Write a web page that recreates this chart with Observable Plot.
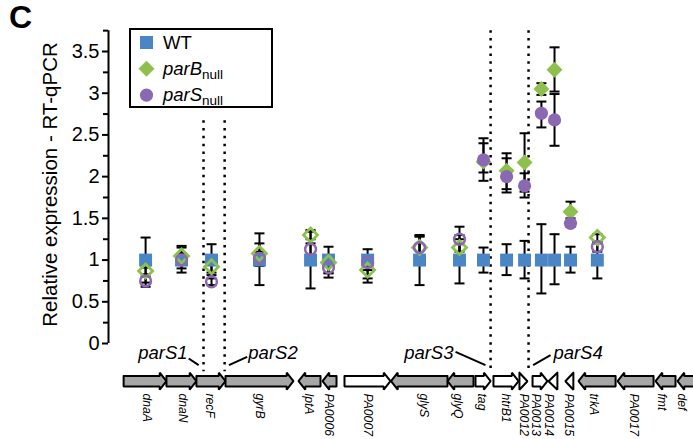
<!DOCTYPE html>
<html><head><meta charset="utf-8">
<script src="https://cdn.jsdelivr.net/npm/d3@7"></script>
<script src="https://cdn.jsdelivr.net/npm/@observablehq/plot@0.6"></script>
<style>
body{margin:0;background:#fff;font-family:"Liberation Sans",Arial,sans-serif;}
#wrap{position:relative;width:693px;height:439px;overflow:hidden;background:#fff;}
#panel{position:absolute;left:9px;top:1px;font-weight:bold;font-size:32px;line-height:32px;font-family:"Liberation Sans",Arial,sans-serif;}
#legend{position:absolute;left:129px;top:28px;}
</style></head><body>
<div id="wrap"><div id="chart"></div><div id="panel">C</div><svg id="legend" width="146" height="82"></svg></div>
<script>
// ---- measured genes (x = genomic position, kb) ----
const genes = ["dnaA","dnaN","recF","gyrB","lptA","PA0006","PA0007","glyS","glyQ","tag","htrB1","PA0012","PA0013","PA0014","PA0015","trkA"];
const genePos = [0.80,2.06,3.11,4.79,6.58,7.21,8.58,10.40,11.80,12.64,13.45,14.08,14.67,15.13,15.69,16.63];
const wtMean = [1,1,1,1,1,1,1,1,1,1,1,1,1,1,1,1];
const wtLo = [0.73,0.85,0.82,0.70,0.66,0.84,0.78,0.70,0.72,0.85,0.82,0.78,0.60,0.71,0.85,0.78];
const wtHi = [1.27,1.15,1.19,1.32,1.34,1.16,1.13,1.30,1.30,1.15,1.19,1.23,1.43,1.31,1.16,1.22];
const parBMean = [0.87,1.05,0.92,1.08,1.30,0.97,0.88,1.15,1.15,2.18,2.07,2.17,3.05,3.28,1.58,1.27];
const parBLo = [0.83,0.95,0.85,0.95,1.25,0.85,0.73,1.05,1.05,1.95,1.85,1.82,2.98,3.02,1.45,1.20];
const parBHi = [0.91,1.17,1.00,1.20,1.36,1.05,1.00,1.29,1.25,2.40,2.28,2.52,3.12,3.55,1.70,1.31];
const parSMean = [0.75,1.00,0.74,1.02,1.13,0.91,0.97,1.15,1.25,2.20,2.00,1.89,2.76,2.68,1.44,1.16];
const parSLo = [0.68,0.90,0.70,0.93,1.05,0.79,0.88,1.05,1.10,2.05,1.81,1.75,2.59,2.37,1.40,1.10];
const parSHi = [0.80,1.08,0.78,1.10,1.20,1.00,1.06,1.28,1.40,2.46,2.22,2.04,2.90,2.99,1.50,1.22];
const significant = [0,0,0,0,0,0,0,0,0,1,1,1,1,1,1,0];

// ---- gene map ----
const trackNames = ["dnaA","dnaN","recF","gyrB","lptA","PA0006","PA0007","glyS","glyQ","tag","htrB1","PA0012","PA0013","PA0014","PA0015","trkA","PA0017","fmt","def"];
const trackStart = [0.03,1.53,2.58,3.60,6.16,7.00,7.77,9.40,11.38,12.36,12.99,13.90,14.36,14.92,15.51,15.97,17.34,18.67,19.44];
const trackEnd = [1.53,2.58,3.60,5.98,6.93,7.49,9.38,11.38,12.29,12.89,13.87,14.18,14.88,15.23,15.79,17.27,18.60,19.37,20.40];
const trackStrand = [1,1,1,1,-1,-1,1,-1,-1,1,1,1,1,-1,-1,-1,-1,-1,-1];
const trackShaded = [1,1,1,1,1,1,0,1,1,0,0,0,0,0,0,1,1,1,1];
const trackLabelPos = [0.83,2.09,3.07,4.79,6.54,7.24,8.58,10.54,11.76,12.57,13.41,14.04,14.49,14.94,15.65,16.50,17.90,18.91,19.61];

// ---- parS sites ----
const parSNames = ["parS1","parS2","parS3","parS4"];
const parSPos = [2.83,3.57,12.89,14.22];
const parSLineTop = [2.67,2.67,3.75,3.75];
const parSLabelPos = [2.27,4.40,11.59,15.09];
const parSLabelSide = ["end","start","end","start"];
const parSLeaderX1 = [2.31,3.72,11.66,14.38];
const parSLeaderY1 = [-0.18,-0.26,-0.10,-0.26];
const parSLeaderX2 = [2.66,4.36,12.71,14.99];
const parSLeaderY2 = [-0.26,-0.16,-0.26,-0.14];

const yTicks = [0,0.5,1,1.5,2,2.5,3,3.5];
const yMinor = [0.25,0.75,1.25,1.75,2.25,2.75,3.25,3.75];
const series = ["WT","parB","parS"];
const seriesColor = ["#4a86c6","#8ec04e","#8b68b2"];

// ---- build tables ----
const rows = genes.map((g,i)=>({gene:g,x:genePos[i],sig:significant[i],
  wt:wtMean[i],wtLo:wtLo[i],wtHi:wtHi[i],pb:parBMean[i],pbLo:parBLo[i],pbHi:parBHi[i],ps:parSMean[i],psLo:parSLo[i],psHi:parSHi[i]}));
const errs = [];
rows.forEach(r=>{
  errs.push({x:r.x,lo:r.wtLo,hi:r.wtHi});
  errs.push({x:r.x,lo:r.pbLo,hi:r.pbHi});
  errs.push({x:r.x,lo:r.psLo,hi:r.psHi});
});
const caps = errs.flatMap(e=>[{x:e.x,y:e.lo},{x:e.x,y:e.hi}]);

const TRACK_Y = -0.452, BODY = 0.062, HEAD = 0.102, HEADLEN = 0.235;
const tracks = trackNames.map((n,i)=>({name:n,s:trackStart[i],e:trackEnd[i],strand:trackStrand[i],shaded:trackShaded[i],lab:trackLabelPos[i]}));
function arrowPts(t){
  const c=TRACK_Y, len=t.e-t.s, h = len<0.35 ? len : HEADLEN;
  let pts;
  if(t.strand>0){
    const n=t.e-h;
    pts = h>=len ? [[t.s,c+HEAD],[t.e,c],[t.s,c-HEAD],[t.s,c+HEAD]]
      : [[t.s,c+BODY],[n,c+BODY],[n,c+HEAD],[t.e,c],[n,c-HEAD],[n,c-BODY],[t.s,c-BODY],[t.s,c+BODY]];
  } else {
    const n=t.s+h;
    pts = h>=len ? [[t.e,c+HEAD],[t.s,c],[t.e,c-HEAD],[t.e,c+HEAD]]
      : [[t.e,c+BODY],[n,c+BODY],[n,c+HEAD],[t.s,c],[n,c-HEAD],[n,c-BODY],[t.e,c-BODY],[t.e,c+BODY]];
  }
  return pts.map(p=>({name:t.name,shaded:t.shaded,x:p[0],y:p[1]}));
}
const polys = tracks.flatMap(arrowPts);
const sites = parSNames.map((n,i)=>({name:n,x:parSPos[i],top:parSLineTop[i],lx:parSLabelPos[i],side:parSLabelSide[i],
  x1:parSLeaderX1[i],y1:parSLeaderY1[i],x2:parSLeaderX2[i],y2:parSLeaderY2[i]}));

const capSymbol = {draw(ctx){ctx.moveTo(-5,0);ctx.lineTo(5,0);}};
const FONT = "'Liberation Sans', Arial, sans-serif";

const chart = Plot.plot({
  width:693, height:439, marginLeft:108, marginRight:0, marginTop:0, marginBottom:0,
  x:{domain:[-0.5,20], axis:null},
  y:{domain:[-1.1507,4.1113], axis:null},
  style:{fontFamily:FONT, background:"white", color:"black"},
  marks:[
    Plot.ruleX(sites,{x:"x", y1:"top", y2:()=>-0.34, stroke:"black", strokeWidth:2.5, strokeDasharray:"2.5,5.3"}),
    Plot.ruleX([-0.5],{y1:0, y2:3.75, stroke:"black", strokeWidth:2}),
    Plot.axisY({anchor:"left", ticks:yTicks, tickSize:6, tickPadding:3, fontSize:20, strokeWidth:2, tickFormat:d=>String(d)}),
    Plot.axisY({anchor:"left", ticks:yMinor, tickSize:5, strokeWidth:2, tickFormat:()=>""}),
    Plot.text(["Relative expression - RT-qPCR"],{x:()=>-0.5, y:()=>1.906, rotate:-90, dx:-52, lineAnchor:"bottom", textAnchor:"middle", fontSize:20.5}),
    Plot.ruleX(errs,{x:"x", y1:"lo", y2:"hi", stroke:"black", strokeWidth:2}),
    Plot.dot(caps,{x:"x", y:"y", symbol:capSymbol, r:5, stroke:"black", strokeWidth:2, fill:"none"}),
    Plot.dot(rows,{x:"x", y:"wt", symbol:"square", r:7.3, fill:seriesColor[0], stroke:"none"}),
    Plot.dot(rows.filter(r=>r.sig),{x:"x", y:"pb", symbol:"diamond2", r:7.2, fill:seriesColor[1], stroke:"none"}),
    Plot.dot(rows.filter(r=>!r.sig),{x:"x", y:"pb", symbol:"diamond2", r:6.3, fill:"none", stroke:seriesColor[1], strokeWidth:2.8}),
    Plot.dot(rows.filter(r=>r.sig),{x:"x", y:"ps", symbol:"circle", r:6.6, fill:seriesColor[2], stroke:"none"}),
    Plot.dot(rows.filter(r=>!r.sig),{x:"x", y:"ps", symbol:"circle", r:5.4, fill:"none", stroke:seriesColor[2], strokeWidth:2.5}),
    Plot.line(polys.filter(p=>p.shaded),{x:"x", y:"y", z:"name", fill:"#a6a6a6", stroke:"black", strokeWidth:2, strokeLinejoin:"miter"}),
    Plot.line(polys.filter(p=>!p.shaded),{x:"x", y:"y", z:"name", fill:"white", stroke:"black", strokeWidth:2, strokeLinejoin:"miter"}),
    Plot.text(tracks,{x:"lab", y:()=>-0.599, text:"name", rotate:90, textAnchor:"start", lineAnchor:"middle", fontStyle:"italic", fontSize:12.2}),
    Plot.link(sites,{x1:"x1", y1:"y1", x2:"x2", y2:"y2", stroke:"black", strokeWidth:2}),
    Plot.text(sites.filter(s=>s.side==="end"),{x:"lx", y:()=>-0.183, text:"name", textAnchor:"end", lineAnchor:"bottom", fontStyle:"italic", fontSize:18.5}),
    Plot.text(sites.filter(s=>s.side==="start"),{x:"lx", y:()=>-0.183, text:"name", textAnchor:"start", lineAnchor:"bottom", fontStyle:"italic", fontSize:18.5})
  ]
});
document.getElementById("chart").appendChild(chart);

// legend
const lg = d3.select("#legend");
lg.append("rect").attr("x",1).attr("y",1).attr("width",142).attr("height",78).attr("fill","white").attr("stroke","black").attr("stroke-width",2);
const symbols = [d3.symbolSquare, d3.symbolDiamond2, d3.symbolCircle];
const symSize = [169, 7.2*7.2*Math.PI, 6.6*6.6*Math.PI];
const legendLabels = [["WT",null],["parB","null"],["parS","null"]];
series.forEach((s,i)=>{
  const cy = 14.5 + i*26.3;
  lg.append("path").attr("d", d3.symbol(symbols[i], symSize[i])()).attr("transform",`translate(17.5,${cy})`).attr("fill",seriesColor[i]);
  const t = lg.append("text").attr("x",34).attr("y",cy+6).attr("font-size",18.5).attr("font-family",FONT);
  if(legendLabels[i][1]){
    t.append("tspan").attr("font-style","italic").text(legendLabels[i][0]);
    t.append("tspan").attr("font-size",13.5).attr("dy",4).text(legendLabels[i][1]);
  } else t.text(legendLabels[i][0]);
});
</script>
</body></html>
